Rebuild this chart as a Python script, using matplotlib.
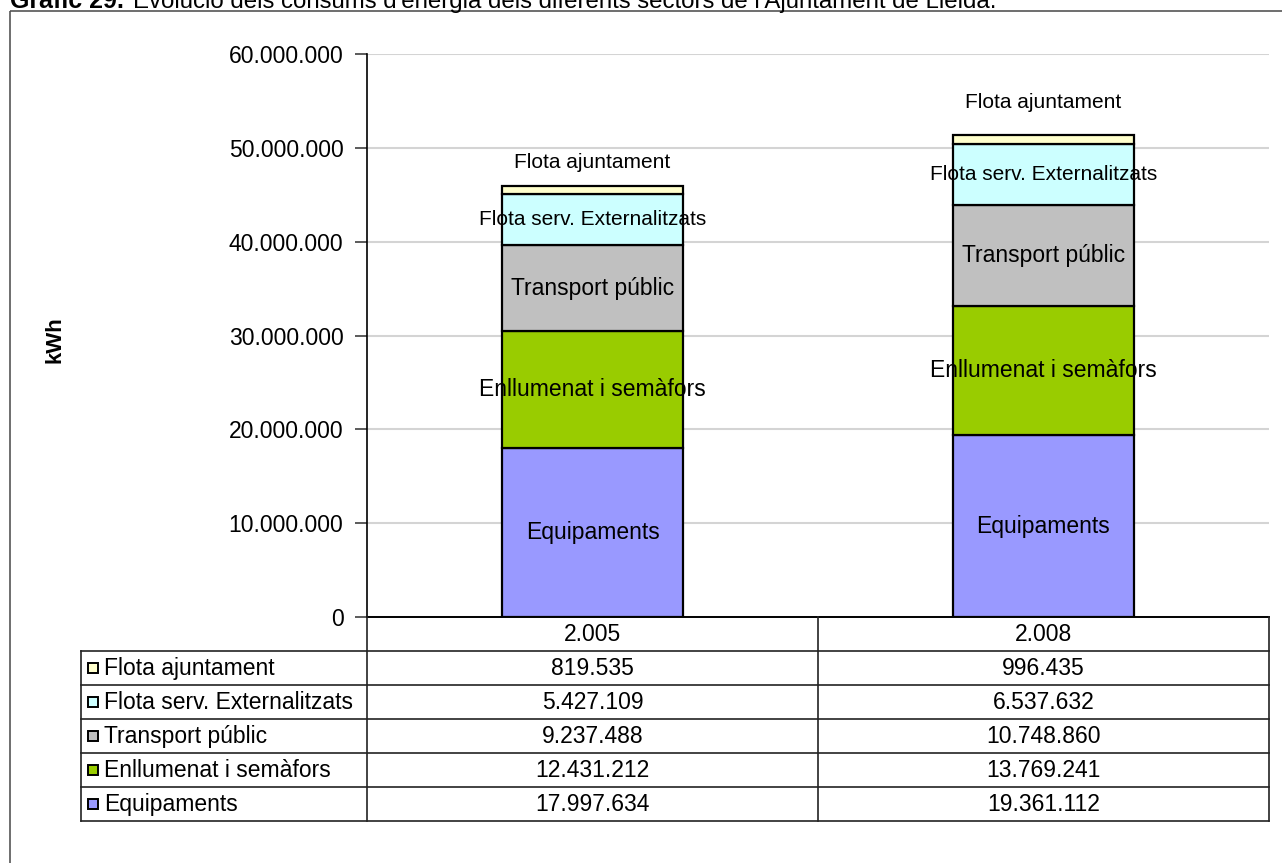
import numpy as np
import matplotlib.pyplot as plt
from matplotlib.patches import Rectangle

plt.rcParams['font.family'] = ['Liberation Sans', 'DejaVu Sans']

# data
years = ['2.005', '2.008']
sectors = ['Equipaments', 'Enllumenat i semàfors', 'Transport públic',
           'Flota serv. Externalitzats', 'Flota ajuntament']
values = {
    'Equipaments': [17997634, 19361112],
    'Enllumenat i semàfors': [12431212, 13769241],
    'Transport públic': [9237488, 10748860],
    'Flota serv. Externalitzats': [5427109, 6537632],
    'Flota ajuntament': [819535, 996435],
}
table_labels = ['Equipaments', 'Enllumenat i semàfors', 'Transport públic',
                'Flota serv. Externalitzats', 'Flota ajuntament']
colors = ['#9999FF', '#99CC00', '#C0C0C0', '#CCFFFF', '#FFFFCC']
top_label_pad = [10, 16]  # points above the bar for the last segment

W, H = 1282, 863
fig = plt.figure(figsize=(W / 100, H / 100), dpi=100)

def fmt(v):
    return f"{v:,.0f}".replace(',', '.')

# main plot
ax = fig.add_axes([367 / W, 1 - 617 / H, 902 / W, (617 - 54) / H])
ax.set_facecolor('none')
x = np.arange(len(years))
bottom = np.zeros(len(years))
for i, s in enumerate(sectors):
    v = np.array(values[s], dtype=float)
    ax.bar(x, v, 0.4, bottom=bottom, color=colors[i], edgecolor='black',
           linewidth=1.6, zorder=3)
    for j in range(len(years)):
        if i == len(sectors) - 1:
            ax.annotate(s, (x[j], bottom[j] + v[j]), xytext=(0, top_label_pad[j]),
                        textcoords='offset points', ha='center', va='bottom',
                        fontsize=15, zorder=4)
        else:
            fs = 15 if i == 3 else 16.5
            ax.text(x[j], bottom[j] + v[j] / 2, s, ha='center', va='center',
                    fontsize=fs, zorder=4)
    bottom += v

ax.set_xlim(-0.5, 1.5)
ax.set_ylim(0, 60000000)
ticks = np.arange(0, 60000001, 10000000)
ax.set_yticks(ticks)
ax.set_yticklabels([fmt(t) for t in ticks], fontsize=16.5)
ax.yaxis.grid(True, color='#d4d4d4', linewidth=1.5, zorder=0)
ax.set_xticks([])
ax.tick_params(axis='y', direction='out', length=9, width=1.2, pad=8, color='#404040')
for sp in ['top', 'right']:
    ax.spines[sp].set_visible(False)
ax.spines['left'].set_linewidth(1.2)
ax.spines['bottom'].set_linewidth(1.4)

# overlay in pixel coordinates for border, title, table
ov = fig.add_axes([0, 0, 1, 1])
ov.set_xlim(0, W)
ov.set_ylim(H, 0)
ov.axis('off')
ov.add_patch(Rectangle((10, 11), W + 20, H, fill=False, edgecolor='#555555', linewidth=1.2))
# title sits partly above the top edge, as in the source image
ov.text(10, 8, 'Gràfic 29.', fontsize=18, fontweight='bold', ha='left', va='baseline')
ov.text(133, 8, "Evolució dels consums d'energia dels diferents sectors de l'Ajuntament de Lleida.",
        fontsize=17.3, ha='left', va='baseline')
ov.text(55, 340, 'kWh', rotation=90, fontsize=16, fontweight='bold', ha='center', va='center')

col_x = [367, 818, 1269]
row_y = [617, 651, 685, 719, 753, 787, 821]
lc = '#222222'
# header row
for cx in col_x:
    ov.plot([cx, cx], [617, 821], color=lc, lw=1.2)
for j, yr in enumerate(years):
    ov.text((col_x[j] + col_x[j + 1]) / 2, 634, yr, fontsize=16.5, ha='center', va='center')
# data rows
ov.plot([81, 81], [651, 821], color=lc, lw=1.2)
for ry in row_y[1:]:
    ov.plot([81, 1269], [ry, ry], color=lc, lw=1.2)
rows = table_labels[::-1]
for r, name in enumerate(rows):
    cy = (row_y[r + 1] + row_y[r + 2]) / 2
    ci = sectors.index(name)
    ov.add_patch(Rectangle((87.5, cy - 5), 10, 10, facecolor=colors[ci],
                           edgecolor='black', linewidth=1.4))
    ov.text(104, cy, name, fontsize=16.5, ha='left', va='center')
    for j in range(len(years)):
        ov.text((col_x[j] + col_x[j + 1]) / 2, cy, fmt(values[name][j]),
                fontsize=16.5, ha='center', va='center')

fig.savefig('out.png', dpi=100)
